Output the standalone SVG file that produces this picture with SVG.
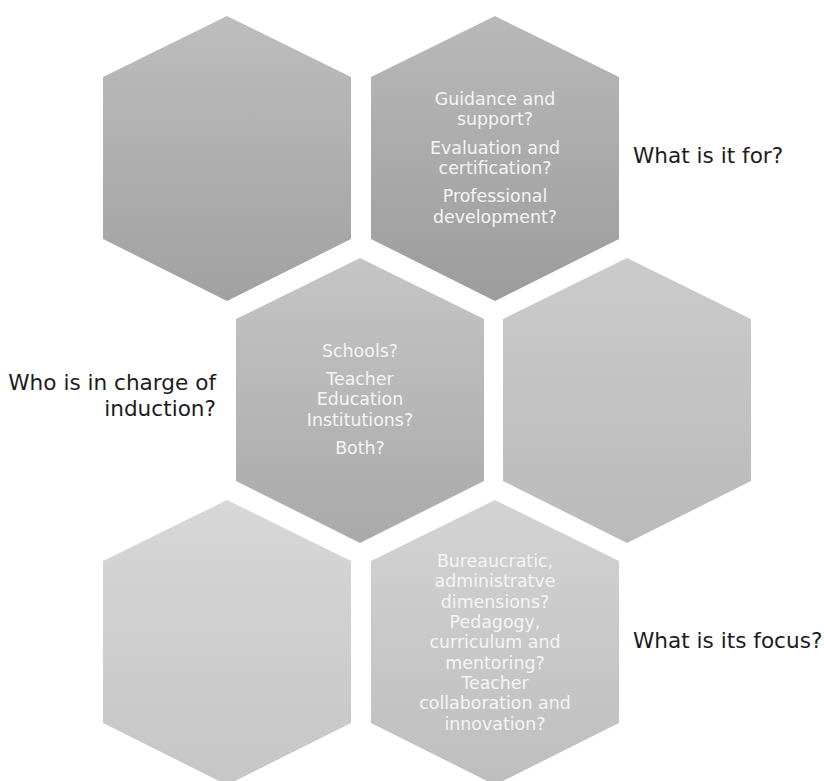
<svg xmlns="http://www.w3.org/2000/svg" width="824" height="781" viewBox="0 0 824 781">
<defs>
<linearGradient id="g1" x1="0" y1="0" x2="0" y2="1"><stop offset="0" stop-color="#bdbdbd"/><stop offset="1" stop-color="#a1a1a1"/></linearGradient>
<linearGradient id="g2" x1="0" y1="0" x2="0" y2="1"><stop offset="0" stop-color="#b9b9b9"/><stop offset="1" stop-color="#9c9c9c"/></linearGradient>
<linearGradient id="g3" x1="0" y1="0" x2="0" y2="1"><stop offset="0" stop-color="#c5c5c5"/><stop offset="1" stop-color="#a9a9a9"/></linearGradient>
<linearGradient id="g4" x1="0" y1="0" x2="0" y2="1"><stop offset="0" stop-color="#cbcbcb"/><stop offset="1" stop-color="#bababa"/></linearGradient>
<linearGradient id="g5" x1="0" y1="0" x2="0" y2="1"><stop offset="0" stop-color="#d7d7d7"/><stop offset="1" stop-color="#c6c6c6"/></linearGradient>
<linearGradient id="g6" x1="0" y1="0" x2="0" y2="1"><stop offset="0" stop-color="#d3d3d3"/><stop offset="1" stop-color="#bebebe"/></linearGradient>
</defs>
<style>
.in{font-family:"DejaVu Sans",Verdana,sans-serif;font-size:17.4px;fill:#f4f4f4;text-anchor:middle}
.out{font-family:"DejaVu Sans",Verdana,sans-serif;font-size:21.6px;fill:#1c1c1c}
</style>
<rect width="824" height="781" fill="#ffffff"/>
<g id="connectors"></g>
<g id="hex1"><path d="M227,16 L351,77 L351,239 L227,301 L103,239 L103,77 Z" fill="url(#g1)"/></g>
<g id="hex2"><path d="M495,16 L619,77 L619,239 L495,301 L371,239 L371,77 Z" fill="url(#g2)"/>
<text class="in" x="495" y="105">Guidance and</text>
<text class="in" x="495" y="125.3">support?</text>
<text class="in" x="495" y="153.5">Evaluation and</text>
<text class="in" x="495" y="173.8">certification?</text>
<text class="in" x="495" y="202.3">Professional</text>
<text class="in" x="495" y="222.6">development?</text>
</g>
<g id="hex3"><path d="M360,258 L484,319 L484,481 L360,543 L236,481 L236,319 Z" fill="url(#g3)"/>
<text class="in" x="360" y="356.7">Schools?</text>
<text class="in" x="360" y="385">Teacher</text>
<text class="in" x="360" y="405.3">Education</text>
<text class="in" x="360" y="425.6">Institutions?</text>
<text class="in" x="360" y="453.9">Both?</text>
</g>
<g id="hex4"><path d="M627,258 L751,319 L751,481 L627,543 L503,481 L503,319 Z" fill="url(#g4)"/></g>
<g id="hex5"><path d="M227,500 L351,561 L351,723 L227,785 L103,723 L103,561 Z" fill="url(#g5)"/></g>
<g id="hex6"><path d="M495,500 L619,561 L619,723 L495,785 L371,723 L371,561 Z" fill="url(#g6)"/>
<text class="in" x="495" y="567">Bureaucratic,</text>
<text class="in" x="495" y="587.3">administratve</text>
<text class="in" x="495" y="607.6">dimensions?</text>
<text class="in" x="495" y="628">Pedagogy,</text>
<text class="in" x="495" y="648.3">curriculum and</text>
<text class="in" x="495" y="668.6">mentoring?</text>
<text class="in" x="495" y="689">Teacher</text>
<text class="in" x="495" y="709.3">collaboration and</text>
<text class="in" x="495" y="729.6">innovation?</text>
</g>
<g id="label-for"><text class="out" x="633" y="163">What is it for?</text></g>
<g id="label-charge"><text class="out" x="216" y="390" text-anchor="end">Who is in charge of</text>
<text class="out" x="216" y="415.5" text-anchor="end">induction?</text></g>
<g id="label-focus"><text class="out" x="633" y="648">What is its focus?</text></g>
</svg>
